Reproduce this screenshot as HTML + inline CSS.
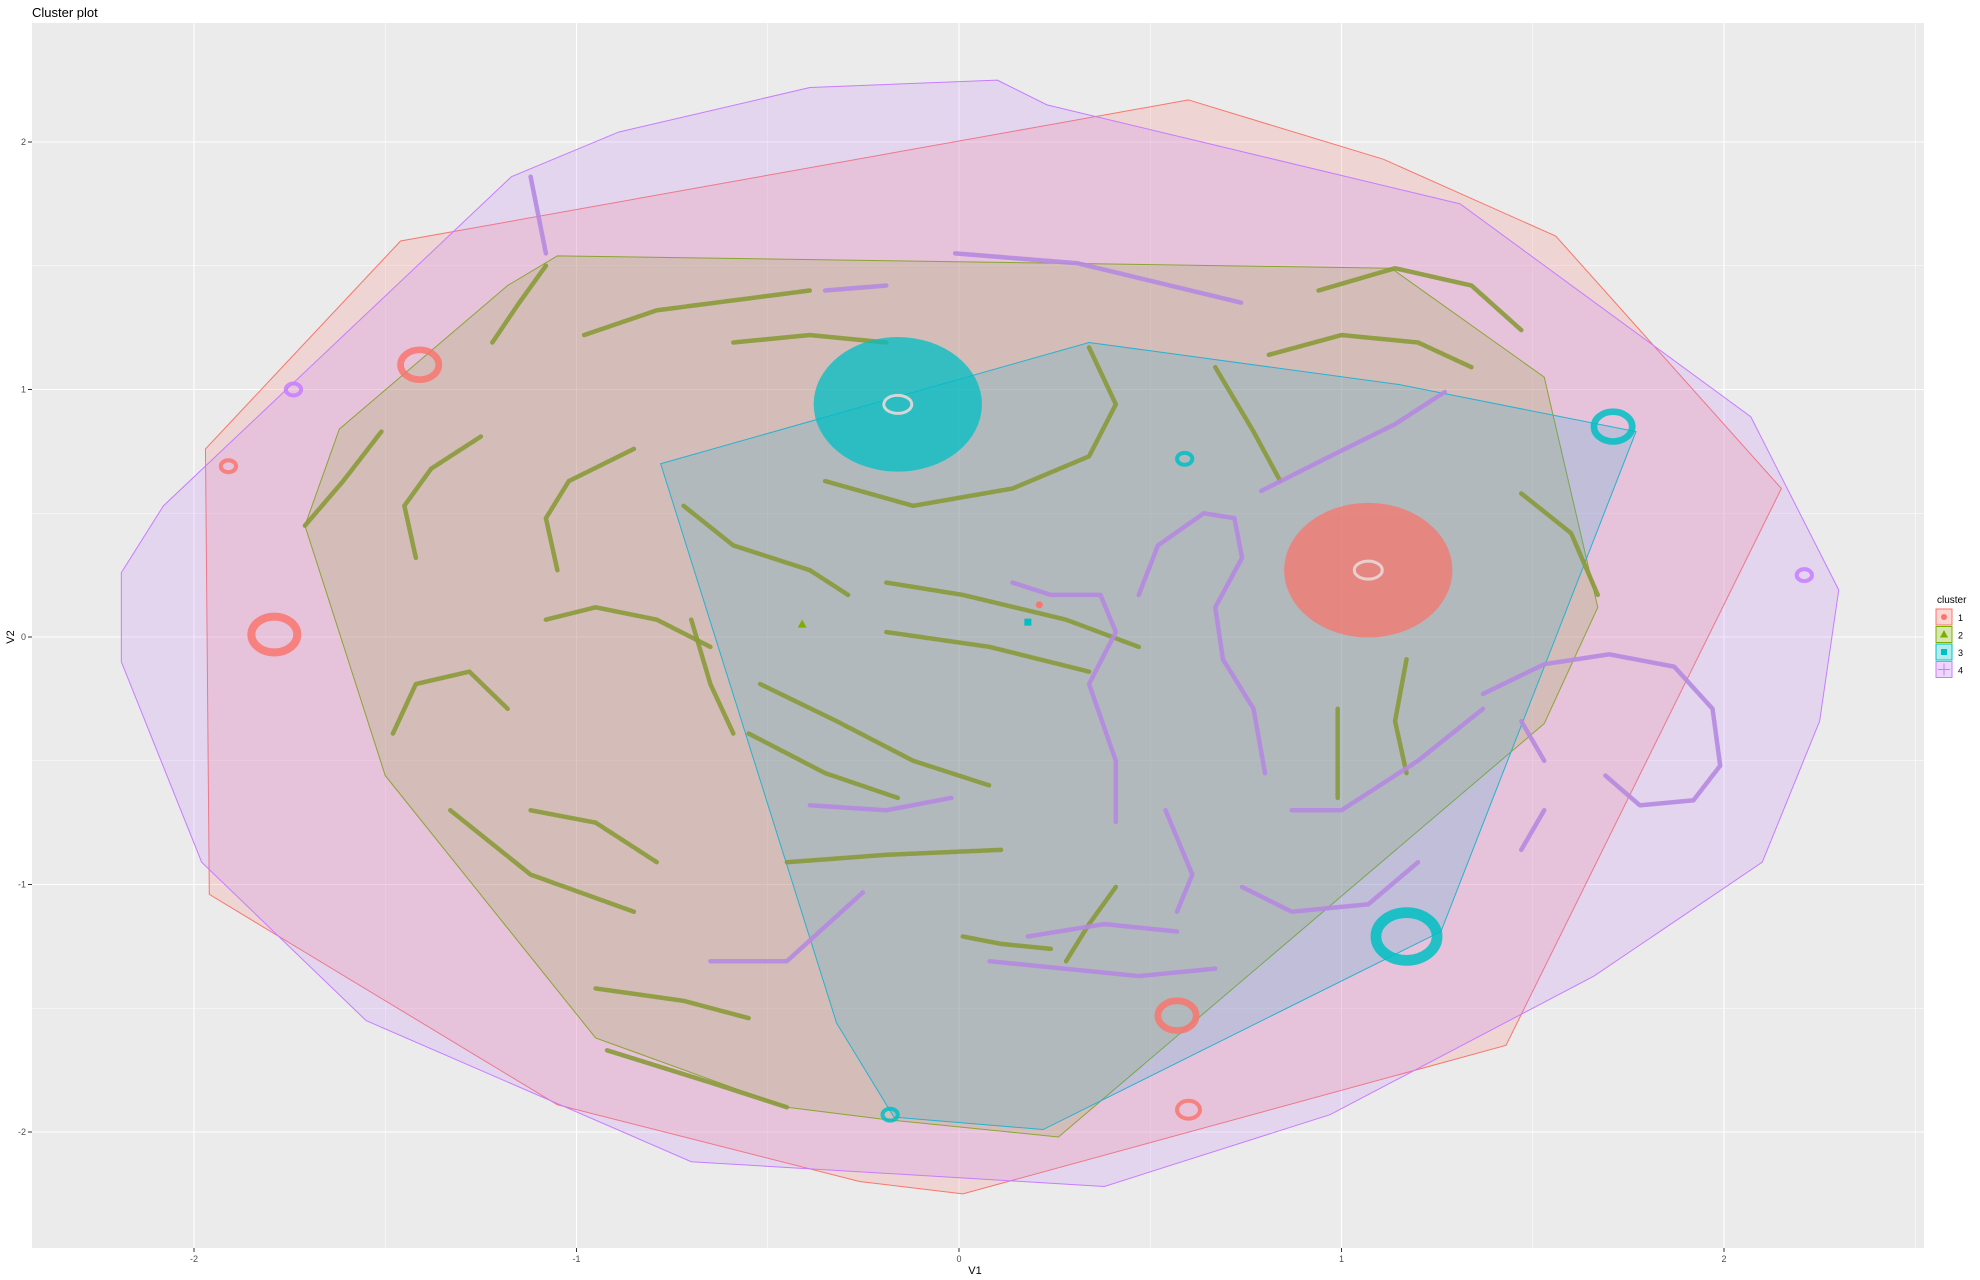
<!DOCTYPE html>
<html><head><meta charset="utf-8"><title>Cluster plot</title>
<style>
html,body{margin:0;padding:0;background:#fff;}
svg{display:block;font-family:"Liberation Sans",sans-serif;}
</style></head>
<body>
<svg id="chart" width="1980" height="1280" viewBox="0 0 1980 1280">
<text x="32" y="17" font-size="13" fill="#000">Cluster plot</text>
<rect x="32" y="23" width="1892" height="1225" fill="#EBEBEB"/>
<g id="grid"></g>
<g id="hulls"></g>
<g id="curves"></g>
<g id="blobs"></g>
<g id="axes"></g>
<text x="975" y="1274" font-size="11" text-anchor="middle" fill="#000">V1</text>
<text x="14" y="637" font-size="11" text-anchor="middle" fill="#000" transform="rotate(-90 14 637)">V2</text>
<g id="legend">
<text x="1937" y="603" font-size="10" fill="#000">cluster</text>
</g>
</svg>
<script>
const xTicks = [-2, -1, 0, 1, 2];
const yTicks = [-2, -1, 0, 1, 2];
const clusterNames = ['1', '2', '3', '4'];
const colors = ['#F8766D', '#7CAE00', '#00BFC4', '#C77CFF'];
const hull1 = [[0.60,2.17],[1.11,1.93],[1.56,1.62],[2.15,0.60],[1.43,-1.65],[0.01,-2.25],[-0.26,-2.20],[-1.05,-1.89],[-1.96,-1.04],[-1.97,0.76],[-1.46,1.60]];
const hull2 = [[-1.05,1.54],[1.13,1.49],[1.53,1.05],[1.67,0.12],[1.53,-0.35],[0.26,-2.02],[-0.19,-1.95],[-0.45,-1.90],[-0.95,-1.62],[-1.50,-0.56],[-1.71,0.45],[-1.62,0.84],[-1.18,1.42]];
const hull3 = [[-0.78,0.70],[0.34,1.19],[1.15,1.02],[1.77,0.83],[1.26,-1.19],[0.22,-1.99],[-0.17,-1.94],[-0.32,-1.56]];
const hull4 = [[0.10,2.25],[0.23,2.15],[1.31,1.75],[2.07,0.89],[2.30,0.19],[2.25,-0.34],[2.10,-0.91],[1.66,-1.37],[0.97,-1.93],[0.38,-2.22],[-0.70,-2.12],[-1.55,-1.55],[-1.98,-0.91],[-2.19,-0.10],[-2.19,0.26],[-2.08,0.53],[-1.17,1.86],[-0.89,2.04],[-0.39,2.22]];
const greenCurves = [
[[-1.08,1.50],[-1.15,1.35],[-1.22,1.19]],
[[-0.98,1.22],[-0.79,1.32],[-0.59,1.36],[-0.39,1.40]],
[[-0.59,1.19],[-0.39,1.22],[-0.19,1.19]],
[[-1.42,0.32],[-1.45,0.53],[-1.38,0.68],[-1.25,0.81]],
[[-1.05,0.27],[-1.08,0.48],[-1.02,0.63],[-0.85,0.76]],
[[-1.48,-0.39],[-1.42,-0.19],[-1.28,-0.14],[-1.18,-0.29]],
[[-1.33,-0.70],[-1.12,-0.96],[-0.85,-1.11]],
[[-1.12,-0.70],[-0.95,-0.75],[-0.79,-0.91]],
[[-0.95,-1.42],[-0.72,-1.47],[-0.55,-1.54]],
[[-0.92,-1.67],[-0.65,-1.80],[-0.45,-1.90]],
[[-0.45,-0.91],[-0.19,-0.88],[0.11,-0.86]],
[[0.34,1.17],[0.41,0.94],[0.34,0.73],[0.14,0.60],[-0.12,0.53],[-0.35,0.63]],
[[-0.72,0.53],[-0.59,0.37],[-0.39,0.27],[-0.29,0.17]],
[[-0.52,-0.19],[-0.32,-0.34],[-0.12,-0.50],[0.08,-0.60]],
[[-0.55,-0.39],[-0.35,-0.55],[-0.16,-0.65]],
[[-0.19,0.22],[0.01,0.17],[0.28,0.07],[0.47,-0.04]],
[[-0.19,0.02],[0.08,-0.04],[0.34,-0.14]],
[[0.81,1.14],[1.00,1.22],[1.20,1.19],[1.34,1.09]],
[[0.94,1.40],[1.14,1.49],[1.34,1.42],[1.47,1.24]],
[[1.47,0.58],[1.60,0.42],[1.67,0.17]],
[[0.67,1.09],[0.77,0.83],[0.84,0.63]],
[[1.17,-0.09],[1.14,-0.34],[1.17,-0.55]],
[[0.99,-0.29],[0.99,-0.50],[0.99,-0.65]],
[[0.41,-1.01],[0.34,-1.16],[0.28,-1.31]],
[[0.01,-1.21],[0.11,-1.24],[0.24,-1.26]],
[[-1.08,0.07],[-0.95,0.12],[-0.79,0.07],[-0.65,-0.04]],
[[-0.70,0.07],[-0.65,-0.19],[-0.59,-0.39]],
[[-1.71,0.45],[-1.61,0.63],[-1.51,0.83]]
];
const purpleCurves = [
[[1.37,-0.23],[1.53,-0.11],[1.70,-0.07],[1.87,-0.12],[1.97,-0.29],[1.99,-0.52],[1.92,-0.66],[1.78,-0.68],[1.69,-0.56]],
[[0.79,0.59],[0.97,0.73],[1.14,0.86],[1.27,0.99]],
[[0.47,0.17],[0.52,0.37],[0.64,0.50],[0.72,0.48],[0.74,0.32],[0.67,0.12],[0.69,-0.09],[0.77,-0.29],[0.80,-0.55]],
[[0.14,0.22],[0.24,0.17],[0.37,0.17],[0.41,0.02],[0.34,-0.19],[0.41,-0.50],[0.41,-0.75]],
[[0.08,-1.31],[0.47,-1.37],[0.67,-1.34]],
[[0.18,-1.21],[0.38,-1.16],[0.57,-1.19]],
[[-0.01,1.55],[0.31,1.51],[0.74,1.35]],
[[-0.65,-1.31],[-0.45,-1.31],[-0.25,-1.03]],
[[-0.39,-0.68],[-0.19,-0.70],[-0.02,-0.65]],
[[0.87,-0.70],[1.00,-0.70],[1.20,-0.50],[1.37,-0.29]],
[[0.57,-1.11],[0.61,-0.96],[0.54,-0.70]],
[[0.74,-1.01],[0.87,-1.11],[1.07,-1.08],[1.20,-0.91]],
[[-1.12,1.86],[-1.08,1.55]],
[[-0.35,1.40],[-0.19,1.42]],
[[1.47,-0.34],[1.53,-0.50]],
[[1.47,-0.86],[1.53,-0.70]]
];
const blobCenters = [[1.07,0.27],[-0.16,0.94],[-1.41,1.10],[-1.79,0.01],[0.57,-1.53],[0.60,-1.91],[1.71,0.85],[1.17,-1.21],[0.59,0.72],[-1.74,1.00],[-1.91,0.69],[2.21,0.25],[-0.18,-1.93]];
const blobClusters = [1, 3, 1, 1, 1, 1, 3, 3, 3, 4, 1, 4, 3];
const blobRadii = [0.22, 0.22, 0.05, 0.06, 0.05, 0.03, 0.05, 0.08, 0.02, 0.02, 0.02, 0.02, 0.02];
const centroids = [[0.21,0.13],[-0.41,0.05],[0.18,0.06]];

const X0 = 959, XU = 382.5, Y0 = 637, YU = 247.5;
const sx = v => X0 + v * XU;
const sy = v => Y0 - v * YU;
const NS = 'http://www.w3.org/2000/svg';
function mk(tag, parent, attrs) {
  const e = document.createElementNS(NS, tag);
  for (const k in attrs) e.setAttribute(k, attrs[k]);
  parent.appendChild(e);
  return e;
}
const grid = document.getElementById('grid');
const axes = document.getElementById('axes');
for (let v = -2.5; v <= 2.5; v += 0.5) {
  const major = Number.isInteger(v);
  const gx = mk('line', grid, {x1: sx(v), x2: sx(v), y1: 23, y2: 1248, stroke: '#fff', 'stroke-width': major ? 1.1 : 0.55});
  
  
  const gy = mk('line', grid, {y1: sy(v), y2: sy(v), x1: 32, x2: 1924, stroke: '#fff', 'stroke-width': major ? 1.1 : 0.55});
  
  
}
xTicks.forEach(t => {
  const l = mk('line', axes, {x1: sx(t), x2: sx(t), y1: 1248, y2: 1252, stroke: '#333'});
  
  
  const tx = mk('text', axes, {x: sx(t), y: 1262, 'font-size': 9, 'text-anchor': 'middle', fill: '#4D4D4D'});
  tx.textContent = t;
  
  
});
yTicks.forEach(t => {
  const l = mk('line', axes, {x1: 28, x2: 32, y1: sy(t), y2: sy(t), stroke: '#333'});
  
  
  const tx = mk('text', axes, {x: 26, y: sy(t) + 3, 'font-size': 9, 'text-anchor': 'end', fill: '#4D4D4D'});
  tx.textContent = t;
  
  
});
const hg = document.getElementById('hulls');
[hull1, hull2, hull3, hull4].forEach((h, i) => {
  const p = mk('polygon', hg, {points: h.map(q => sx(q[0]) + ',' + sy(q[1])).join(' '), fill: colors[i], 'fill-opacity': 0.2, stroke: colors[i], 'stroke-width': 1});
  
  
});
const cg = document.getElementById('curves');
function drawCurves(arr, col, name) {
  arr.forEach(c => {
    const d = c.map((q, j) => (j ? 'L' : 'M') + sx(q[0]) + ' ' + sy(q[1])).join(' ');
    const p = mk('path', cg, {d: d, fill: 'none', stroke: col, 'stroke-width': 4.5, 'stroke-dasharray': '3 1', 'stroke-linecap': 'round', 'stroke-linejoin': 'round', opacity: 0.9});
    
    
  });
}
drawCurves(greenCurves, '#8A9A3A', 'cluster-2-points');
drawCurves(purpleCurves, '#B58AE0', 'cluster-4-points');
const bg = document.getElementById('blobs');
blobCenters.forEach((c, i) => {
  const col = colors[blobClusters[i] - 1];
  const r = blobRadii[i];
  const x = sx(c[0]), y = sy(c[1]);
  let e;
  if (r > 0.1) {
    e = mk('ellipse', bg, {cx: x, cy: y, rx: r * XU, ry: r * XU * 0.8, fill: col, 'fill-opacity': 0.75});
    const inner = mk('ellipse', bg, {cx: x, cy: y, rx: 14, ry: 9, fill: 'none', stroke: '#E8D8D8', 'stroke-width': 3, opacity: 0.9});
    
    
  } else {
    e = mk('ellipse', bg, {cx: x, cy: y, rx: r * XU, ry: r * XU * 0.78, fill: 'none', stroke: col, 'stroke-width': Math.max(4, r * XU * 0.35), opacity: 0.85});
  }
  
  
});
centroids.forEach((c, i) => {
  let e;
  const x = sx(c[0]), y = sy(c[1]);
  if (i === 0) e = mk('circle', bg, {cx: x, cy: y, r: 3.5, fill: colors[0]});
  else if (i === 1) e = mk('polygon', bg, {points: `${x},${y-5} ${x-4.5},${y+3} ${x+4.5},${y+3}`, fill: colors[1]});
  else e = mk('rect', bg, {x: x - 3.5, y: y - 3.5, width: 7, height: 7, fill: colors[2]});
  
  
});
const lg = document.getElementById('legend');
clusterNames.forEach((n, i) => {
  const y = 609 + i * 17.5;
  const k = mk('rect', lg, {x: 1936, y: y, width: 16, height: 16, fill: colors[i], 'fill-opacity': 0.3, stroke: colors[i], 'stroke-width': 1});
  
  
  let s;
  if (i === 0) s = mk('circle', lg, {cx: 1944, cy: y + 8, r: 3, fill: colors[i]});
  else if (i === 1) s = mk('polygon', lg, {points: `1944,${y+3.5} 1940,${y+11} 1948,${y+11}`, fill: colors[i]});
  else if (i === 2) s = mk('rect', lg, {x: 1941, y: y + 5, width: 6, height: 6, fill: colors[i]});
  else s = mk('path', lg, {d: `M1938 ${y+8}H1950M1944 ${y+2}V${y+14}`, stroke: colors[i], 'stroke-width': 1});
  
  
  const t = mk('text', lg, {x: 1958, y: y + 12, 'font-size': 9, fill: '#000'});
  t.textContent = n;
  
  
});
</script>
</body></html>
